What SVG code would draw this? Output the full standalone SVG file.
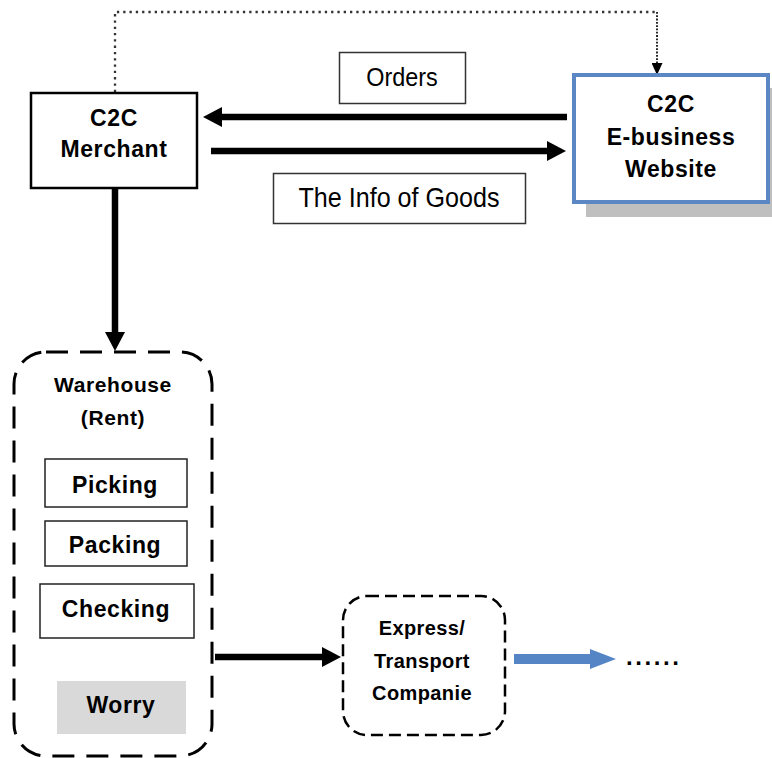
<svg xmlns="http://www.w3.org/2000/svg" width="772" height="758" viewBox="0 0 772 758">
  <style>
    .box { fill: #ffffff; stroke: #000000; stroke-width: 2.5; }
    .lbl { fill: #ffffff; stroke: #333333; stroke-width: 1.5; }
    .sub { fill: #ffffff; stroke: #222222; stroke-width: 1.5; }
    .b { font-family: "Liberation Sans", Arial, sans-serif; font-weight: bold; fill: #000000; text-anchor: middle; }
    .r { font-family: "Liberation Sans", Arial, sans-serif; fill: #000000; text-anchor: middle; }
    .thick { stroke: #000000; stroke-width: 6.5; fill: none; }
    .dot { stroke: #333333; stroke-width: 2.3; fill: none; stroke-dasharray: 2.3 4; }
  </style>
  <defs>
    <marker id="ah" viewBox="0 0 19 20" markerWidth="19" markerHeight="20" refX="0" refY="10" markerUnits="userSpaceOnUse" orient="auto">
      <path d="M0,0 L19,10 L0,20 Z" fill="#000000"/>
    </marker>
    <marker id="ahs" viewBox="0 0 12 11" markerWidth="12" markerHeight="11" refX="0" refY="5.5" markerUnits="userSpaceOnUse" orient="auto">
      <path d="M0,0 L12,5.5 L0,11 Z" fill="#000000"/>
    </marker>
  </defs>
  <rect width="772" height="758" fill="#ffffff"/>

  <g id="connectors">
    <path class="dot" d="M115,92 L115,12 L657,12"/>
    <path d="M657,12 L657,63" stroke="#111111" stroke-width="1.8" fill="none" stroke-dasharray="1.8 1.5" marker-end="url(#ahs)"/>
    <path class="thick" d="M567,117 L222,117" marker-end="url(#ah)"/>
    <path class="thick" d="M211,151 L547,151" marker-end="url(#ah)"/>
    <path class="thick" d="M115,188 L115,332" marker-end="url(#ah)"/>
    <path class="thick" d="M215,657 L322,657" marker-end="url(#ah)"/>
    <polygon points="514,654 590,654 590,649 616,659 590,669 590,664 514,664" fill="#5585c5"/>
  </g>

  <g id="label-orders">
    <rect class="lbl" x="339.5" y="52.5" width="126" height="51"/>
    <text class="r" transform="translate(402,86) scale(0.9,1)" x="0" y="0" font-size="26">Orders</text>
  </g>

  <g id="label-info">
    <rect class="lbl" x="273.5" y="173.5" width="252" height="50"/>
    <text class="r" transform="translate(399,207) scale(0.93,1)" x="0" y="0" font-size="27">The Info of Goods</text>
  </g>

  <g id="merchant">
    <rect class="box" x="31" y="93" width="166" height="95"/>
    <text class="b" x="114" y="126" font-size="23" letter-spacing="0.6">C2C</text>
    <text class="b" x="114" y="157" font-size="23" letter-spacing="0.6">Merchant</text>
  </g>

  <g id="website">
    <rect x="586" y="88" width="186" height="129" fill="#bfbfbf"/>
    <rect x="574" y="75" width="194" height="127" fill="#ffffff" stroke="#5b87c4" stroke-width="4"/>
    <text class="b" x="671" y="112" font-size="23" letter-spacing="0.6">C2C</text>
    <text class="b" x="671" y="145" font-size="23" letter-spacing="0.6">E-business</text>
    <text class="b" x="671" y="177" font-size="23" letter-spacing="0.6">Website</text>
  </g>

  <g id="warehouse">
    <rect x="14" y="352" width="198" height="404" rx="32" ry="32" fill="#ffffff" stroke="#000000" stroke-width="3" stroke-dasharray="22 12"/>
    <text class="b" x="113" y="392" font-size="21" letter-spacing="0.6">Warehouse</text>
    <text class="b" x="113" y="425" font-size="21" letter-spacing="0.6">(Rent)</text>
  </g>

  <g id="picking">
    <rect class="sub" x="45" y="459" width="142" height="48"/>
    <text class="b" x="115" y="493" font-size="23" letter-spacing="0.6">Picking</text>
  </g>

  <g id="packing">
    <rect class="sub" x="45" y="521" width="142" height="45"/>
    <text class="b" x="115" y="553" font-size="23" letter-spacing="0.6">Packing</text>
  </g>

  <g id="checking">
    <rect class="sub" x="40" y="584" width="154" height="54"/>
    <text class="b" x="116" y="617" font-size="23" letter-spacing="0.6">Checking</text>
  </g>

  <g id="worry">
    <rect x="57" y="681" width="129" height="53" fill="#d9d9d9"/>
    <text class="b" x="121" y="713" font-size="23" letter-spacing="0.6">Worry</text>
  </g>

  <g id="express">
    <rect x="343" y="596" width="162" height="139" rx="24" ry="24" fill="#ffffff" stroke="#000000" stroke-width="2.5" stroke-dasharray="12 6"/>
    <text class="b" x="422" y="635" font-size="20" letter-spacing="0.4">Express/</text>
    <text class="b" x="422" y="668" font-size="20" letter-spacing="0.4">Transport</text>
    <text class="b" x="422" y="700" font-size="20" letter-spacing="0.4">Companie</text>
  </g>

  <g id="ellipsis">
    <text x="626" y="665" font-family="Liberation Sans, Arial, sans-serif" font-weight="bold" font-size="24" letter-spacing="2.6" fill="#000000">......</text>
  </g>
</svg>
